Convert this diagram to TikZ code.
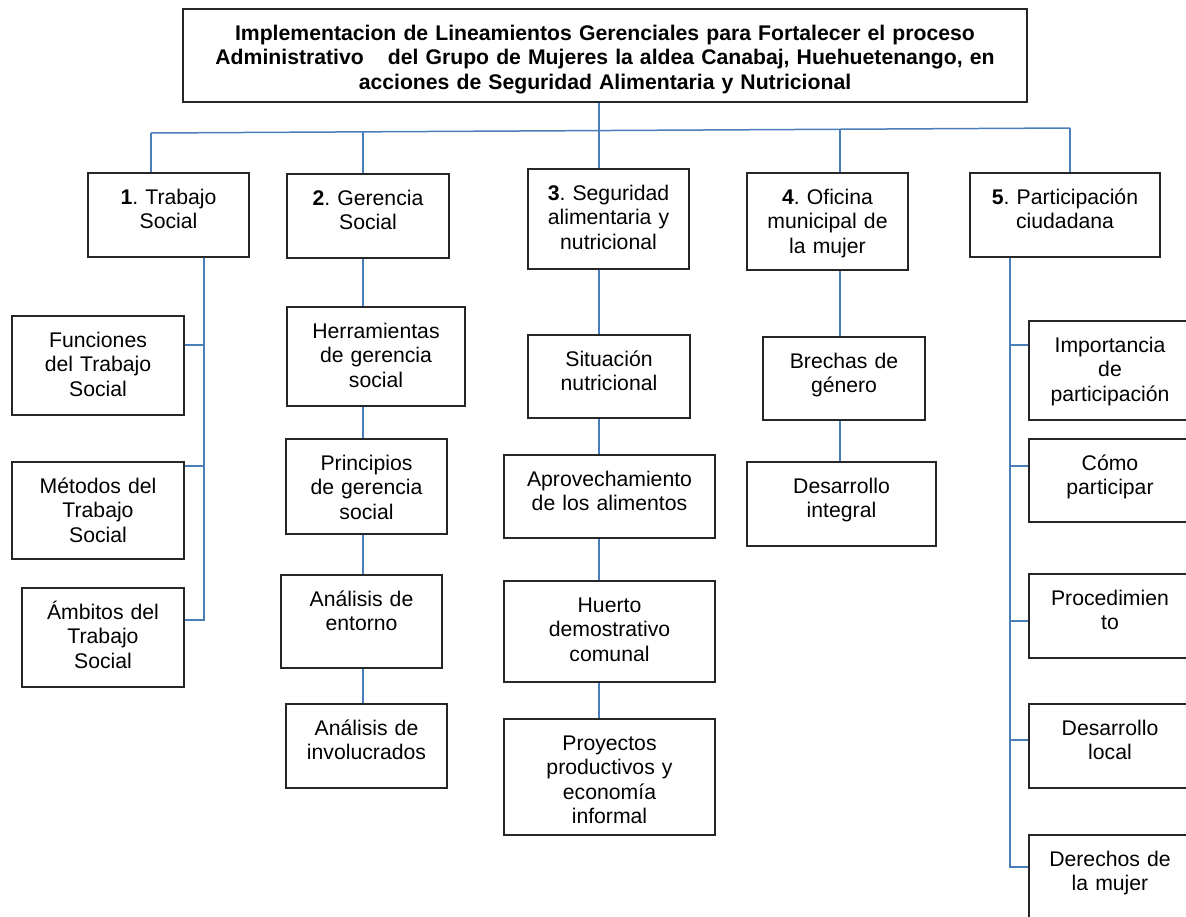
\documentclass[tikz,border=0pt]{standalone}
\usepackage{fontspec}
\setmainfont{Liberation Sans}
\frenchspacing
\definecolor{linkblue}{HTML}{4A7EBB}
\tikzset{
  box/.style 2 args={draw=black!85, line width=1.2pt, align=center, inner xsep=3pt, inner ysep=0pt,
    text width={#1-6}, minimum width=#1, minimum height=#2, text height=0pt, text depth={#2-62}},
  link/.style={draw=linkblue, line width=1.5pt}
}

\begin{document}
\begin{tikzpicture}[x=1pt, y=-1pt, font=\fontsize{21.2}{24.5}\selectfont]
	\useasboundingbox (0,0) rectangle (1186,916);
	% titulo
	\node[box={844}{93}, font=\fontsize{21.2}{24.5}\selectfont\bfseries] (title) at (605,55.5)
		{Implementacion de Lineamientos Gerenciales para Fortalecer el proceso\\Administrativo\hspace{17pt} del Grupo de Mujeres la aldea Canabaj, Huehuetenango, en\\acciones de Seguridad Alimentaria y Nutricional};
	
	% nivel 1
	\node[box={161}{84}] (trabajo) at (168.5,215) {\textbf{1}. Trabajo\\Social};
	\node[box={162}{84}] (gerencia) at (368,216) {\textbf{2}. Gerencia\\Social};
	\node[box={161}{100}] (seguridad) at (608.5,219) {\textbf{3}. Seguridad\\alimentaria y\\nutricional};
	\node[box={161}{97}] (oficina) at (827.5,221.5) {\textbf{4}. Oficina\\municipal de\\la mujer};
	\node[box={190}{84}] (participacion) at (1065,215) {\textbf{5}. Participación\\ciudadana};
	
	% trabajo social
	\node[box={172}{99}] (funciones) at (98,365.5) {Funciones\\del Trabajo\\Social};
	\node[box={172}{97}] (metodos) at (98,510.5) {Métodos del\\Trabajo\\Social};
	\node[box={162}{99}] (ambitos) at (103,637.5) {Ámbitos del\\Trabajo\\Social};
	
	% gerencia social
	\node[box={178}{99}] (herramientas) at (376,356.5) {Herramientas\\de gerencia\\social};
	\node[box={161}{95}] (principios) at (366.5,486.5) {Principios\\de gerencia\\social};
	\node[box={161}{93}] (entorno) at (361.5,621.5) {Análisis de\\entorno};
	\node[box={161}{84}] (involucrados) at (366.5,746) {Análisis de\\involucrados};
	
	% seguridad alimentaria
	\node[box={162}{83}] (situacion) at (609,376.5) {Situación\\nutricional};
	\node[box={211}{83}] (aprovechamiento) at (609.5,496.5) {Aprovechamiento\\de los alimentos};
	\node[box={211}{101}] (huerto) at (609.5,631.5) {Huerto\\demostrativo\\comunal};
	\node[box={211}{116}] (proyectos) at (609.5,777) {Proyectos\\productivos y\\economía\\informal};
	
	% oficina municipal
	\node[box={162}{83}] (brechas) at (844,378.5) {Brechas de\\género};
	\node[box={189}{84}] (integral) at (841.5,504) {Desarrollo\\integral};
	
	% participacion
	\node[box={162}{99}] (importancia) at (1110,370.5) {Importancia\\de\\participación};
	\node[box={162}{83}] (como) at (1110,480.5) {Cómo\\participar};
	\node[box={162}{84}] (procedimiento) at (1110,616) {Procedimien\\to};
	\node[box={162}{84}] (local) at (1110,746) {Desarrollo\\local};
	\node[box={162}{84}] (derechos) at (1110,877) {Derechos de\\la mujer};
	
	% barra
	\coordinate (busL) at (151,133);
	\coordinate (busR) at (1070,128);
	\coordinate (bus2) at (363,132);
	\coordinate (bus3) at (599,130.5);
	\coordinate (bus4) at (840,129.2);
	\draw[link] (title.south -| bus3) -- (bus3);
	\draw[link] (busL) -- (busR);
	\draw[link] (busL) -- (busL |- trabajo.north);
	\draw[link] (bus2) -- (bus2 |- gerencia.north);
	\draw[link] (bus3) -- (bus3 |- seguridad.north);
	\draw[link] (bus4) -- (bus4 |- oficina.north);
	\draw[link] (busR) -- (busR |- participacion.north);
	
	% ramas 1
	\coordinate (s1) at (204,620);
	\coordinate (f1) at (204,345);
	\coordinate (f2) at (204,466);
	\draw[link] (trabajo.south -| s1) -- (s1) -- (s1 -| ambitos.east);
	\draw[link] (f1) -- (f1 -| funciones.east);
	\draw[link] (f2) -- (f2 -| metodos.east);
	
	% ramas 2
	\draw[link] (gerencia.south -| bus2) -- (herramientas.north -| bus2);
	\draw[link] (herramientas.south -| bus2) -- (principios.north -| bus2);
	\draw[link] (principios.south -| bus2) -- (entorno.north -| bus2);
	\draw[link] (entorno.south -| bus2) -- (involucrados.north -| bus2);
	
	% ramas 3
	\draw[link] (seguridad.south -| bus3) -- (situacion.north -| bus3);
	\draw[link] (situacion.south -| bus3) -- (aprovechamiento.north -| bus3);
	\draw[link] (aprovechamiento.south -| bus3) -- (huerto.north -| bus3);
	\draw[link] (huerto.south -| bus3) -- (proyectos.north -| bus3);
	
	% ramas 4
	\draw[link] (oficina.south -| bus4) -- (brechas.north -| bus4);
	\draw[link] (brechas.south -| bus4) -- (integral.north -| bus4);
	
	% ramas 5
	\coordinate (s5) at (1010,867);
	\coordinate (p1) at (1010,345);
	\coordinate (p2) at (1010,466);
	\coordinate (p3) at (1010,621);
	\coordinate (p4) at (1010,740);
	\draw[link] (participacion.south -| s5) -- (s5) -- (s5 -| derechos.west);
	\draw[link] (p1) -- (p1 -| importancia.west);
	\draw[link] (p2) -- (p2 -| como.west);
	\draw[link] (p3) -- (p3 -| procedimiento.west);
	\draw[link] (p4) -- (p4 -| local.west);
\end{tikzpicture}
\end{document}
